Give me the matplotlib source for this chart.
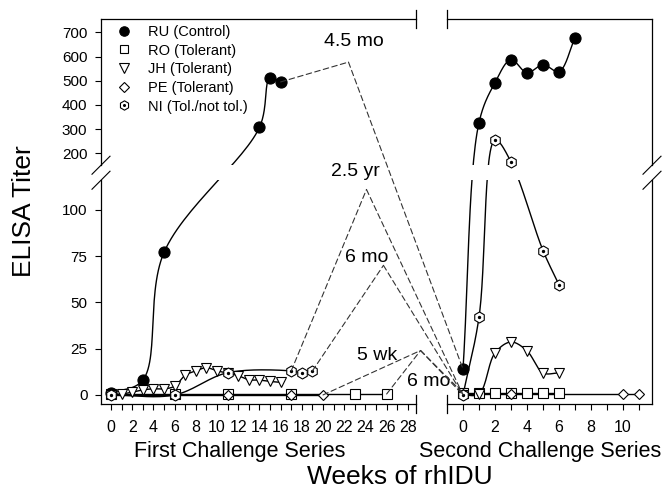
import numpy as np
import matplotlib
matplotlib.use("Agg")
import matplotlib.pyplot as plt
from matplotlib.patches import ConnectionPatch
from matplotlib.legend_handler import HandlerTuple

plt.rcParams['font.family'] = ['Liberation Sans', 'DejaVu Sans']

# ---- data: weeks of rhIDU vs ELISA titer ----
ru_wk_1 = [0, 3, 5, 14, 15, 16]
ru_titer_1 = [1, 8, 77, 307, 512, 495]
ru_wk_2 = [0, 1, 2, 3, 4, 5, 6, 7]
ru_titer_2 = [14, 327, 492, 587, 533, 566, 538, 677]

ro_wk_1 = [0, 6, 11, 17, 23, 26]
ro_titer_1 = [0.5, 0.5, 0.5, 0.5, 0.5, 0.5]
ro_wk_2 = [0, 1, 2, 3, 4, 5, 6]
ro_titer_2 = [1, 1, 1, 1, 1, 1, 1]

jh_wk_1 = [0, 1, 2, 3, 4, 5, 6, 7, 8, 9, 10, 11, 12, 13, 14, 15, 16]
jh_titer_1 = [0, 0.5, 1.5, 2.7, 3.3, 3.3, 4.7, 10.6, 13, 14.7, 13, 11.8, 10.4, 8.2, 8, 7.3, 6.8]
jh_wk_2 = [0, 1, 2, 3, 4, 5, 6]
jh_titer_2 = [0, 0.5, 22.7, 28.6, 23.8, 11.9, 11.9]

pe_wk_1 = [0, 6, 11, 17, 20]
pe_titer_1 = [0, 0, 0, 0, 0]
pe_wk_2 = [0, 3, 10, 11]
pe_titer_2 = [0.5, 0.5, 0.5, 0.5]

ni_wk_1 = [0, 6, 11, 17, 18, 19]
ni_titer_1 = [0, 0, 12, 13, 12, 13]
ni_wk_2 = [0, 1, 2, 3, 5, 6]
ni_titer_2 = [0, 42, 255, 165, 78, 59.5]

legend_labels = ['RU (Control)', 'RO (Tolerant)', 'JH (Tolerant)', 'PE (Tolerant)', 'NI (Tol./not tol.)']

# time off treatment between the two series: last point, apex, first point of series 2
gap_labels = ['4.5 mo', '2.5 yr', '6 mo', '5 wk', '6 mo']
gap_start_wk = [16, 17, 19, 20, 26]
gap_start_titer = [495, 13, 13, 0, 0.5]
gap_apex_wk = [22.4, 24.1, 25.7, 29.2, 29.2]
gap_apex_titer = [577, 111, 70, 24, 24]
gap_end_wk = [0, 0, 0, 0, 0]
gap_end_titer = [14, 0, 0, 0, 1]

yticks = [0, 25, 50, 75, 100, 200, 300, 400, 500, 600, 700]

# label positions in pixels
gap_label_px = [(354, 41), (355, 172), (367, 257), (377, 355), (429, 382)]

W, H = 668, 491

# broken y axis: linear below LO_TOP, compressed above UP_BOT
LO_TOP = 116.0
UP_BOT = 151.0
K_GAP = 0.2317
K_UP = 0.1308
U1 = LO_TOP + (UP_BOT - LO_TOP) * K_GAP


def fwd(v):
    v = np.asarray(v, dtype=float)
    return np.where(v <= LO_TOP, v,
                    np.where(v <= UP_BOT, LO_TOP + (v - LO_TOP) * K_GAP,
                             U1 + (v - UP_BOT) * K_UP))


def inv(u):
    u = np.asarray(u, dtype=float)
    return np.where(u <= LO_TOP, u,
                    np.where(u <= U1, LO_TOP + (u - LO_TOP) / K_GAP,
                             UP_BOT + (u - U1) / K_UP))


def smooth(ax, x, y, n=30):
    """Centripetal Catmull-Rom curve through the points, computed in display space."""
    pts = ax.transData.transform(np.column_stack([x, y]).astype(float))
    if len(pts) < 3:
        return x, y
    P = np.vstack([2 * pts[0] - pts[1], pts, 2 * pts[-1] - pts[-2]])
    segs = []
    for i in range(1, len(P) - 2):
        p0, p1, p2, p3 = P[i - 1], P[i], P[i + 1], P[i + 2]
        t0 = 0.0
        t1 = t0 + max(np.hypot(*(p1 - p0)) ** 0.5, 1e-6)
        t2 = t1 + max(np.hypot(*(p2 - p1)) ** 0.5, 1e-6)
        t3 = t2 + max(np.hypot(*(p3 - p2)) ** 0.5, 1e-6)
        t = np.linspace(t1, t2, n)[:, None]
        A1 = (t1 - t) / (t1 - t0) * p0 + (t - t0) / (t1 - t0) * p1
        A2 = (t2 - t) / (t2 - t1) * p1 + (t - t1) / (t2 - t1) * p2
        A3 = (t3 - t) / (t3 - t2) * p2 + (t - t2) / (t3 - t2) * p3
        B1 = (t2 - t) / (t2 - t0) * A1 + (t - t0) / (t2 - t0) * A2
        B2 = (t3 - t) / (t3 - t1) * A2 + (t - t1) / (t3 - t1) * A3
        C = (t2 - t) / (t2 - t1) * B1 + (t - t1) / (t2 - t1) * B2
        segs.append(C if i == 1 else C[1:])
    curve = ax.transData.inverted().transform(np.vstack(segs))
    return curve[:, 0], curve[:, 1]


fig = plt.figure(figsize=(W / 100, H / 100), dpi=100)
bottom, height = (H - 404) / H, 385 / H
ax1 = fig.add_axes([101 / W, bottom, 315 / W, height])
ax2 = fig.add_axes([447 / W, bottom, 205 / W, height])

for ax in (ax1, ax2):
    ax.set_yscale('function', functions=(fwd, inv))
    ax.set_ylim(-4.9, 755)
    ax.axhspan(LO_TOP, UP_BOT, color='white', lw=0, zorder=2.5)
    for s in ax.spines.values():
        s.set_linewidth(0.9)
    ax.tick_params(which='both', direction='out', length=4.3, width=0.8, labelsize=11.5, pad=7)
    ax.yaxis.set_minor_locator(matplotlib.ticker.NullLocator())

ax1.set_xlim(-0.943, 28.77)
ax2.set_xlim(-1.0, 11.81)

ax1.set_xticks(range(0, 29, 2))
ax1.set_xticks(range(1, 29, 2), minor=True)
ax2.set_xticks(range(0, 11, 2))
ax2.set_xticks(range(1, 12, 2), minor=True)
ax1.set_yticks(yticks)
ax1.set_yticklabels([str(v) for v in yticks])
ax1.tick_params(axis='y', labelsize=11, pad=5.5)
ax2.set_yticks([])

ax1.spines['right'].set_visible(False)
ax1.spines['left'].set_visible(False)
ax2.spines['left'].set_visible(False)
ax2.spines['right'].set_visible(False)

# broken vertical spines with break marks
for ax, xa, wpx in ((ax1, 0, 315), (ax2, 1, 205)):
    tr = ax.get_yaxis_transform()
    ax.plot([xa, xa], [-4.9, LO_TOP], transform=tr, color='black', lw=0.9, clip_on=False, zorder=4)
    ax.plot([xa, xa], [UP_BOT, 755], transform=tr, color='black', lw=0.9, clip_on=False, zorder=4)
    for v in (LO_TOP, UP_BOT):
        fy = ax.transAxes.inverted().transform(ax.transData.transform((0, v)))[1]
        ax.plot([xa - 9 / wpx, xa + 9 / wpx], [fy - 9 / 385, fy + 9 / 385],
                transform=ax.transAxes, color='black', lw=0.8, clip_on=False, zorder=4)

# end bars at the x-axis break
for ax, xa in ((ax1, 1), (ax2, 0)):
    for ya in (0, 1):
        ax.plot([xa, xa], [ya - 9 / 385, ya + 9 / 385], transform=ax.transAxes,
                color='black', lw=0.9, clip_on=False, zorder=4)


def draw(ax, wk, titer, marker, ms, mfc):
    xs, ys = smooth(ax, wk, titer)
    ax.plot(xs, ys, color='black', lw=1.0, zorder=2)
    h, = ax.plot(wk, titer, ls='none', marker=marker, ms=ms, mfc=mfc, mec='black',
                 mew=0.8, zorder=3, clip_on=False)
    return h


series = [
    (ru_wk_1, ru_titer_1, ru_wk_2, ru_titer_2, 'o', 8, 'black'),
    (ro_wk_1, ro_titer_1, ro_wk_2, ro_titer_2, 's', 7.2, 'white'),
    (jh_wk_1, jh_titer_1, jh_wk_2, jh_titer_2, 'v', 7.8, 'white'),
    (pe_wk_1, pe_titer_1, pe_wk_2, pe_titer_2, 'D', 5.6, 'white'),
    (ni_wk_1, ni_titer_1, ni_wk_2, ni_titer_2, 'h', 7.9, 'white'),
]

handles = []
for wk1, t1, wk2, t2, mk, ms, mfc in series:
    h = draw(ax1, wk1, t1, mk, ms, mfc)
    draw(ax2, wk2, t2, mk, ms, mfc)
    handles.append(h)

dot_kw = dict(ls='none', marker='o', ms=1.4, color='black', zorder=3.1)
hdot, = ax1.plot(ni_wk_1, ni_titer_1, **dot_kw)
ax2.plot(ni_wk_2, ni_titer_2, **dot_kw)
handles[-1] = (handles[-1], hdot)

ax1.legend(handles, legend_labels, loc='upper left',
           bbox_to_anchor=(116.7 / W, 1 - 24.9 / H), bbox_transform=fig.transFigure,
           frameon=False, fontsize=10.5, handlelength=1.0, handletextpad=1.15,
           labelspacing=0.32, borderpad=0, borderaxespad=0, markerscale=0.85,
           handler_map={tuple: HandlerTuple(ndivide=1)})

# dashed connectors between the two challenge series
dash_kw = dict(ls=(0, (5, 3)), lw=0.8, color='#333333', zorder=5)
for i in range(len(gap_labels)):
    apex = (gap_apex_wk[i], gap_apex_titer[i])
    fig.add_artist(ConnectionPatch(xyA=(gap_start_wk[i], gap_start_titer[i]), coordsA=ax1.transData,
                                   xyB=apex, coordsB=ax1.transData, **dash_kw))
    fig.add_artist(ConnectionPatch(xyA=apex, coordsA=ax1.transData,
                                   xyB=(gap_end_wk[i], gap_end_titer[i]), coordsB=ax2.transData,
                                   **dash_kw))
    px, py = gap_label_px[i]
    fig.text(px / W, 1 - py / H, gap_labels[i], fontsize=14, ha='center', va='center')

fig.text(24 / W, 1 - 211 / H, 'ELISA Titer', fontsize=19, rotation=90, ha='center', va='center')
fig.text(240 / W, 1 - 452 / H, 'First Challenge Series', fontsize=15.5, ha='center', va='center')
fig.text(540 / W, 1 - 452 / H, 'Second Challenge Series', fontsize=15.5, ha='center', va='center')
fig.text(400 / W, 1 - 477 / H, 'Weeks of rhIDU', fontsize=19, ha='center', va='center')

fig.savefig('out.png', dpi=100)
